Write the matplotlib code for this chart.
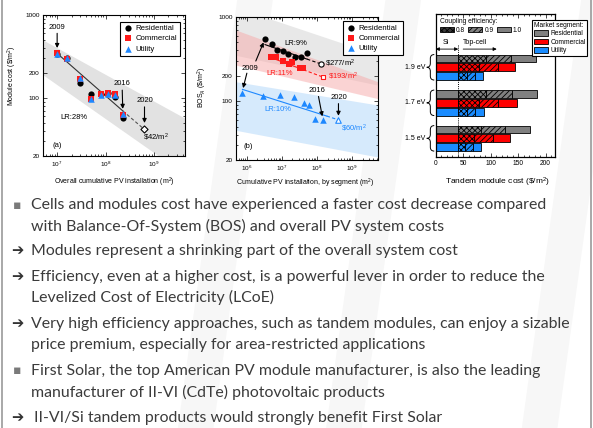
import numpy as np
import matplotlib
matplotlib.use('Agg')
import matplotlib.pyplot as plt
import matplotlib.transforms as mtransforms
from matplotlib.patches import Patch, PathPatch, Polygon
from matplotlib.path import Path
from matplotlib.lines import Line2D
from matplotlib.ticker import LogLocator, NullFormatter, MultipleLocator

plt.rcParams['font.family'] = ['Liberation Sans', 'DejaVu Sans']
plt.rcParams['mathtext.fontset'] = 'custom'
plt.rcParams['mathtext.rm'] = 'Liberation Sans'
plt.rcParams['mathtext.it'] = 'Liberation Sans:italic'
plt.rcParams['hatch.linewidth'] = 0.6

# (a) module cost vs overall cumulative installation
mod_x = [1.0e7, 1.63e7, 2.9e7, 4.95e7, 7.95e7, 1.11e8, 1.55e8, 2.27e8]
mod_res = [336, 300, 150, 112, 112, 114, 102, 57]
mod_com = [345, 298, 168, 98, 113, 116, 112, 62]
mod_uti = [336, 300, 172, 97, 110, 111, 109, 64]
mod_2020 = (6.3e8, 42)
fit_a_x = [1.0e7, 2.27e8, 6.3e8]
fit_a_y = [345, 70, 42]
band_a_x = [5.1e6, 4.4e9]
band_a_hi = [500, 57]
band_a_lo = [190, 12]

# (b) BOS cost by segment
bos_res_x = [3.3e6, 5.1e6, 7.1e6, 1.1e7, 1.5e7, 2.35e7, 3.6e7, 5.2e7]
bos_res_y = [547, 477, 405, 398, 363, 337, 337, 376]
bos_com_x = [4.8e6, 6.7e6, 1.05e7, 1.6e7, 2.0e7, 3.3e7, 4.1e7]
bos_com_y = [337, 337, 302, 275, 294, 245, 251]
bos_uti_x = [7.5e5, 2.9e6, 9.1e6, 2.2e7, 4.2e7, 6.0e7, 8.8e7, 1.45e8]
bos_uti_y = [126, 115, 118, 111, 94, 91, 62, 59]
res_2020 = (1.3e8, 277)
com_2020 = (1.5e8, 193)
uti_2020 = (4.1e8, 60)
fit_res_x = [3.3e6, 5.2e7, 1.3e8]
fit_res_y = [470, 316, 277]
fit_com_x = [4.8e6, 4.1e7, 1.5e8]
fit_com_y = [330, 236, 193]
fit_uti_x = [7.5e5, 1.9e8, 4.1e8]
fit_uti_y = [138, 66.5, 60]
band_b_x = [4.9e5, 5.5e9]
band_res_hi = [1300, 353]
band_res_lo = [350, 155]
band_com_hi = [700, 170]
band_com_lo = [268, 107]
band_uti_hi = [170, 90]
band_uti_lo = [45, 21.7]

# (c) tandem module cost, cumulative ends of each coupling-efficiency segment
tandem_levels = ['1.9 eV', '1.7 eV', '1.5 eV']
si_cost = 41
res_08 = [91, 92, 82]
res_09 = [137, 139, 126]
res_10 = [182, 185, 171]
com_08 = [78, 79, 70]
com_09 = [113, 113, 104]
com_10 = [145, 147, 136]
uti_08 = [57, 57, 53]
uti_09 = [72, 72, 68]
uti_10 = [86, 87, 82]

segments = ['Residential', 'Commercial', 'Utility']
seg_colors = ['#808080', '#ff0000', '#1a8cff']

bullets = [
    ('sq', 'Cells and modules cost have experienced a faster cost decrease compared', 205),
    (None, 'with Balance-Of-System (BOS) and overall PV system costs', 226),
    ('arrow', 'Modules represent a shrinking part of the overall system cost', 251),
    ('arrow', 'Efficiency, even at a higher cost, is a powerful lever in order to reduce the', 277),
    (None, 'Levelized Cost of Electricity (LCoE)', 297),
    ('arrow', 'Very high efficiency approaches, such as tandem modules, can enjoy a sizable', 324),
    (None, 'price premium, especially for area-restricted applications', 345),
    ('sq', 'First Solar, the top American PV module manufacturer, is also the leading', 371),
    (None, 'manufacturer of II-VI (CdTe) photovoltaic products', 392),
    ('arrow', 'II-VI/Si tandem products would strongly benefit First Solar', 418),
]

W, H = 593, 428
fig = plt.figure(figsize=(W / 100, H / 100), dpi=100, facecolor='white')

# faint slanted bands of the slide background
for x0 in [0.30, 0.55, 0.88]:
    fig.patches.append(Polygon([[x0, 0], [x0 + 0.06, 0], [x0 + 0.16, 1], [x0 + 0.10, 1]],
                               closed=True, transform=fig.transFigure,
                               facecolor='#f7f7f7', edgecolor='none', zorder=-10))
for xe in [1.5 / W, 590.5 / W]:
    fig.lines.append(Line2D([xe, xe], [0, 1], transform=fig.transFigure,
                            color='#9a9a9a', lw=1.2))


def px_axes(left, top, right, bottom):
    return fig.add_axes([left / W, 1 - bottom / H, (right - left) / W, (bottom - top) / H])


def style_log(ax):
    ax.set_xscale('log')
    ax.set_yscale('log')
    ax.set_yticks([20, 100, 200, 1000], labels=['20', '100', '200', '1000'])
    ax.yaxis.set_minor_locator(LogLocator(base=10, subs=np.arange(2, 10), numticks=10))
    ax.yaxis.set_minor_formatter(NullFormatter())
    ax.xaxis.set_major_locator(LogLocator(base=10, numticks=10))
    ax.xaxis.set_minor_locator(LogLocator(base=10, subs=np.arange(2, 10), numticks=10))
    ax.xaxis.set_minor_formatter(NullFormatter())
    ax.tick_params(which='both', direction='in', top=True, right=True, width=0.5,
                   labelsize=4.6, pad=2.5)
    ax.tick_params(which='major', length=3)
    ax.tick_params(which='minor', length=1.6)
    for s in ax.spines.values():
        s.set_linewidth(0.8)


arrow_kw = dict(arrowstyle='-|>', color='k', lw=0.8, mutation_scale=6, shrinkA=0, shrinkB=0)

# ---------------- (a) ----------------
ax1 = px_axes(43, 15, 185, 156)
style_log(ax1)
ax1.set_xlim(5.1e6, 4.4e9)
ax1.set_ylim(20, 1000)
ax1.fill_between(band_a_x, band_a_lo, band_a_hi, color='#e2e2e2', lw=0, zorder=0)
ax1.plot(fit_a_x[:2], fit_a_y[:2], color='#333333', lw=0.8, zorder=1)
ax1.plot(fit_a_x[1:], fit_a_y[1:], color='#555555', lw=0.8, ls=(0, (3, 2)), zorder=1)
ax1.scatter(mod_x, mod_res, marker='o', s=20, c='k', lw=0, label='Residential', zorder=3)
ax1.scatter(mod_x, mod_com, marker='s', s=18, c='#ff1a1a', lw=0, label='Commercial', zorder=4)
ax1.scatter(mod_x, mod_uti, marker='^', s=22, c='#1e88ff', lw=0, label='Utility', zorder=5)
ax1.scatter(*mod_2020, marker='D', s=13, facecolors='white', edgecolors='k', lw=0.8, zorder=5)
leg = ax1.legend(loc='upper right', bbox_to_anchor=(0.965, 0.952), borderaxespad=0,
                 fontsize=5.6, fancybox=False, edgecolor='k', framealpha=1,
                 handlelength=1.2, handletextpad=0.4, labelspacing=0.35, borderpad=0.4)
leg.get_frame().set_linewidth(0.8)
ax1.annotate('2009', xy=(1.0e7, 400), xytext=(1.0e7, 716), fontsize=5.5,
             ha='center', va='center', arrowprops=arrow_kw)
ax1.annotate('2016', xy=(2.27e8, 74), xytext=(2.2e8, 148), fontsize=5.5,
             ha='center', va='center', arrowprops=arrow_kw)
ax1.annotate('2020', xy=(6.4e8, 50), xytext=(6.4e8, 93), fontsize=5.5,
             ha='center', va='center', arrowprops=arrow_kw)
ax1.text(5.9e8, 34, r'\$42/m$^2$', fontsize=5.5, ha='left', va='center')
ax1.text(2.24e7, 58, 'LR:28%', fontsize=5.5, ha='center', va='center')
ax1.text(1.0e7, 27, '(a)', fontsize=5.5, ha='center', va='center')
ax1.set_ylabel('Module cost (\\$/m$^2$)', fontsize=5)
ax1.set_xlabel('Overall cumulative PV installation (m$^2$)', fontsize=5)
ax1.yaxis.set_label_coords(-0.213, 0.567)
ax1.xaxis.set_label_coords(0.5, -0.19)
ax1.xaxis.label.set_va('center')
ax1.yaxis.label.set_va('center')

# ---------------- (b) ----------------
ax2 = px_axes(236, 17, 378, 160)
style_log(ax2)
ax2.set_xlim(4.9e5, 5.5e9)
ax2.set_ylim(20, 1000)
ax2.fill_between(band_b_x, band_res_lo, band_res_hi, color='#d9d9d9', alpha=0.6, lw=0, zorder=0)
ax2.fill_between(band_b_x, band_com_lo, band_com_hi, color='#f7a9a9', alpha=0.5, lw=0, zorder=0)
ax2.fill_between(band_b_x, band_uti_lo, band_uti_hi, color='#bcdcfa', alpha=0.6, lw=0, zorder=0)
for fx, fy, col in [(fit_res_x, fit_res_y, 'k'), (fit_com_x, fit_com_y, '#ff1a1a'),
                    (fit_uti_x, fit_uti_y, '#1e88ff')]:
    ax2.plot(fx[:2], fy[:2], color=col, lw=0.8, zorder=1)
    ax2.plot(fx[1:], fy[1:], color=col, lw=0.8, ls=(0, (3, 2)), zorder=1)
ax2.scatter(bos_res_x, bos_res_y, marker='o', s=20, c='k', lw=0, label='Residential', zorder=3)
ax2.scatter(bos_com_x, bos_com_y, marker='s', s=18, c='#ff1a1a', lw=0, label='Commercial', zorder=3)
ax2.scatter(bos_uti_x, bos_uti_y, marker='^', s=22, c='#1e88ff', lw=0, label='Utility', zorder=3)
ax2.scatter(*res_2020, marker='o', s=14, facecolors='white', edgecolors='k', lw=0.8, zorder=4)
ax2.scatter(*com_2020, marker='s', s=12, facecolors='white', edgecolors='#ff1a1a', lw=0.8, zorder=4)
ax2.scatter(*uti_2020, marker='^', s=16, facecolors='white', edgecolors='#1e88ff', lw=0.8, zorder=4)
leg = ax2.legend(loc='upper left', bbox_to_anchor=(0.754, 0.972), borderaxespad=0,
                 fontsize=5.6, fancybox=False, edgecolor='k', framealpha=1,
                 handlelength=1.2, handletextpad=0.4, labelspacing=0.35, borderpad=0.4)
leg.get_frame().set_linewidth(0.8)
leg.set_zorder(10)
ax2.text(1.22e6, 247, '2009', fontsize=5.5, ha='center', va='center')
ax2.annotate('', xy=(3.0e6, 500), xytext=(1.8e6, 300), arrowprops=arrow_kw)
ax2.annotate('', xy=(7.8e5, 143), xytext=(1.0e6, 215), arrowprops=arrow_kw)
ax2.annotate('2016', xy=(1.42e8, 66), xytext=(1.02e8, 135), fontsize=5.5,
             ha='center', va='center', arrowprops=arrow_kw)
ax2.annotate('2020', xy=(4.1e8, 67), xytext=(4.1e8, 111), fontsize=5.5,
             ha='center', va='center', arrowprops=arrow_kw)
ax2.text(2.5e7, 490, 'LR:9%', fontsize=5.5, ha='center', va='center')
ax2.text(1.7e8, 283, r'\$277/m$^2$', fontsize=5.5, ha='left', va='center')
ax2.text(8.7e6, 214, 'LR:11%', fontsize=5.5, ha='center', va='center', color='#ff1a1a')
ax2.text(2.1e8, 195, r'\$193/m$^2$', fontsize=5.5, ha='left', va='center', color='#ff1a1a')
ax2.text(7.8e6, 80, 'LR:10%', fontsize=5.5, ha='center', va='center', color='#1e88ff')
ax2.text(5.0e8, 47, r'\$60/m$^2$', fontsize=5.5, ha='left', va='center', color='#1e88ff')
ax2.text(1.07e6, 29, '(b)', fontsize=5.5, ha='center', va='center')
ax2.set_ylabel(r'BOS$_A$ (\$/m$^2$)', fontsize=5)
ax2.set_xlabel('Cumulative PV installation, by segment (m$^2$)', fontsize=5)
ax2.yaxis.set_label_coords(-0.24, 0.507)
ax2.xaxis.set_label_coords(0.49, -0.161)
ax2.xaxis.label.set_va('center')
ax2.yaxis.label.set_va('center')

# ---------------- (c) ----------------
ax3 = px_axes(435.7, 14, 555, 157)
ax3.set_xlim(0, 217)
ax3.set_ylim(16.1, 0)
bar_h = 0.87
ends = [(res_08, res_09, res_10), (com_08, com_09, com_10), (uti_08, uti_09, uti_10)]
for gi, lev in enumerate(tandem_levels):
    for si, (col, (e08, e09, e10)) in enumerate(zip(seg_colors, ends)):
        y = 5 + 4 * gi + si
        ax3.barh(y, si_cost, height=bar_h, color=col, edgecolor='k', lw=0.6)
        ax3.barh(y, e08[gi] - si_cost, left=si_cost, height=bar_h, color=col,
                 edgecolor='k', lw=0.6, hatch='xxxxxx')
        ax3.barh(y, e09[gi] - e08[gi], left=e08[gi], height=bar_h, color=col,
                 edgecolor='k', lw=0.6, hatch='//////')
        ax3.barh(y, e10[gi] - e09[gi], left=e09[gi], height=bar_h, color=col,
                 edgecolor='k', lw=0.6)

ax3.plot([si_cost, si_cost], [3.5, 16.1], color='k', ls=(0, (1, 1.2)), lw=0.7)
ax3.annotate('', xy=(0, 3.95), xytext=(si_cost, 3.95),
             arrowprops=dict(arrowstyle='<|-|>', color='k', lw=0.6, mutation_scale=5,
                             shrinkA=0, shrinkB=0))
ax3.annotate('', xy=(111, 3.95), xytext=(50, 3.95),
             arrowprops=dict(arrowstyle='-|>', color='k', lw=0.6, mutation_scale=5,
                             shrinkA=0, shrinkB=0))
ax3.text(19, 3.2, 'Si', fontsize=5, ha='center', va='center', zorder=6)
ax3.text(50, 3.2, 'Top-cell', fontsize=5, ha='left', va='center', zorder=6)

# curly braces and band-gap labels left of the bars
trans = mtransforms.blended_transform_factory(ax3.transAxes, ax3.transData)
for gi, lev in enumerate(tandem_levels):
    y0 = 5 + 4 * gi - bar_h / 2
    y1 = 5 + 4 * gi + 2 + bar_h / 2
    ym = (y0 + y1) / 2
    xb, xm, xt, d = -0.012, -0.045, -0.075, 0.45
    verts = [(xb, y0), (xm, y0), (xm, y0 + d), (xm, ym - d), (xm, ym), (xt, ym),
             (xm, ym), (xm, ym + d), (xm, y1 - d), (xm, y1), (xb, y1)]
    codes = [Path.MOVETO, Path.CURVE3, Path.CURVE3, Path.LINETO, Path.CURVE3, Path.CURVE3,
             Path.CURVE3, Path.CURVE3, Path.LINETO, Path.CURVE3, Path.CURVE3]
    ax3.add_patch(PathPatch(Path(verts, codes), transform=trans, facecolor='none',
                            edgecolor='k', lw=0.7, clip_on=False))
    ax3.text(-0.085, ym, lev, transform=trans, fontsize=5, ha='right', va='center')

coup_handles = [Patch(facecolor='#3a3a3a', edgecolor='k', hatch='xxxxxx', lw=0.6),
                Patch(facecolor='#808080', edgecolor='k', hatch='//////', lw=0.6),
                Patch(facecolor='#808080', edgecolor='k', lw=0.6)]
leg_c = ax3.legend(coup_handles, ['0.8', '0.9', '1.0'], ncol=3, title='Coupling efficiency:',
                   loc='upper left', bbox_to_anchor=(0.03, 0.975), borderaxespad=0,
                   frameon=False, fontsize=4.8, title_fontsize=4.8, handlelength=2.1,
                   handleheight=0.8, columnspacing=0.5, handletextpad=0.3,
                   alignment='left', borderpad=0.1, labelspacing=0.2)
ax3.add_artist(leg_c)
seg_handles = [Patch(facecolor=c, edgecolor='k', lw=0.6) for c in seg_colors]
leg_s = ax3.legend(seg_handles, segments, title='Market segment:', loc='upper left',
                   bbox_to_anchor=(0.807, 0.958), borderaxespad=0, fontsize=4.8,
                   title_fontsize=4.8, fancybox=False, edgecolor='k', framealpha=1,
                   handlelength=2.2, handleheight=0.95, handletextpad=0.3,
                   labelspacing=0.2, borderpad=0.25, alignment='left')
leg_s.get_frame().set_linewidth(0.8)
leg_s.set_clip_on(False)

ax3.set_yticks([])
ax3.xaxis.set_major_locator(MultipleLocator(50))
ax3.xaxis.set_minor_locator(MultipleLocator(10))
ax3.tick_params(which='both', direction='in', top=True, width=0.5, labelsize=4.8, pad=2.5)
ax3.tick_params(which='major', length=3)
ax3.tick_params(which='minor', length=1.6)
for s in ax3.spines.values():
    s.set_linewidth(0.9)
ax3.set_xlabel(r'Tandem module cost (\$/m$^2$)', fontsize=6)
ax3.xaxis.set_label_coords(0.52, -0.175)
ax3.xaxis.label.set_va('center')

# ---------------- bullet text ----------------
txt_color = '#3b3b3b'
for kind, line, ypx in bullets:
    yf = 1 - ypx / H
    if kind == 'sq':
        fig.text(13 / W, yf, '\u25aa', fontsize=9, color='#7a7a7a', ha='left', va='center',
                 family=['DejaVu Sans'])
    elif kind == 'arrow':
        fig.text(11 / W, yf, '\u2794', fontsize=10.5, color='#333333', ha='left', va='center',
                 family=['DejaVu Sans'])
    x0 = 34 if line.startswith('II-VI/Si') else 31
    fig.text(x0 / W, yf, line, fontsize=11.4, color=txt_color, ha='left', va='center',
             family=['Lato', 'DejaVu Sans'])

fig.savefig('out.png', dpi=100, facecolor=fig.get_facecolor())
